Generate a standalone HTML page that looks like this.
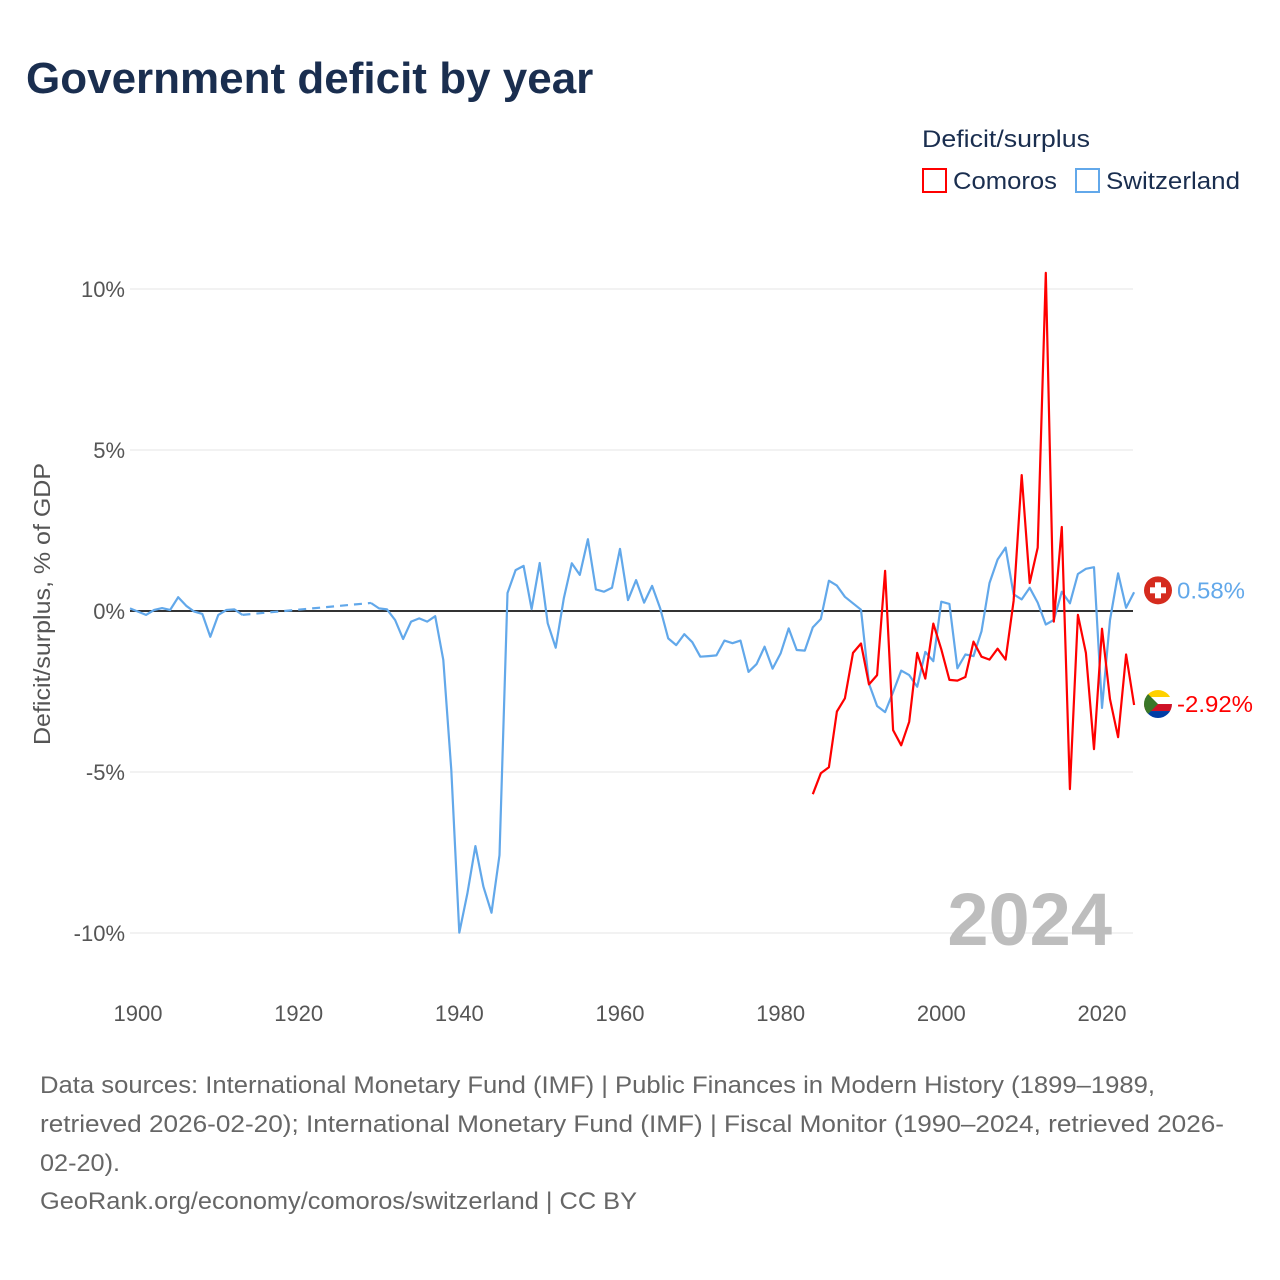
<!DOCTYPE html>
<html><head><meta charset="utf-8"><style>
body{margin:0;background:#fff;font-family:"Liberation Sans",sans-serif;}
svg{display:block}
</style></head><body>
<svg width="1280" height="1280" xmlns="http://www.w3.org/2000/svg" id="chart">
<text x="26" y="93" font-size="44" font-weight="bold" fill="#1a2e4f">Government deficit by year</text>
<g>
<text x="922" y="147" font-size="24" fill="#1a2e4f" textLength="168" lengthAdjust="spacingAndGlyphs">Deficit/surplus</text>
<rect x="923" y="169" width="23" height="23" fill="#fff" stroke="#ff0000" stroke-width="2"/>
<text x="953" y="189" font-size="24" fill="#1a2e4f" textLength="104" lengthAdjust="spacingAndGlyphs">Comoros</text>
<rect x="1076" y="169" width="23" height="23" fill="#fff" stroke="#62a8ea" stroke-width="2"/>
<text x="1106" y="189" font-size="24" fill="#1a2e4f" textLength="134" lengthAdjust="spacingAndGlyphs">Switzerland</text>
</g>
<text transform="translate(50,604) rotate(-90)" text-anchor="middle" font-size="23" fill="#555" textLength="282" lengthAdjust="spacingAndGlyphs">Deficit/surplus, % of GDP</text>
<g id="grid"></g>
<text x="1112" y="945" text-anchor="end" font-size="74" font-weight="bold" fill="#bdbdbd">2024</text>
<g id="series"></g>
<g id="labels"></g>
<g font-size="24" fill="#666">
<text x="40" y="1093" textLength="1115" lengthAdjust="spacingAndGlyphs">Data sources: International Monetary Fund (IMF) | Public Finances in Modern History (1899–1989,</text>
<text x="40" y="1132" textLength="1184" lengthAdjust="spacingAndGlyphs">retrieved 2026-02-20); International Monetary Fund (IMF) | Fiscal Monitor (1990–2024, retrieved 2026-</text>
<text x="40" y="1171" textLength="80" lengthAdjust="spacingAndGlyphs">02-20).</text>
<text x="40" y="1209" textLength="597" lengthAdjust="spacingAndGlyphs">GeoRank.org/economy/comoros/switzerland | CC BY</text>
</g>
</svg>
<script>
const yTicks=[10,5,0,-5,-10];
const yTickLabels=["10%","5%","0%","-5%","-10%"];
const xTicks=[1900,1920,1940,1960,1980,2000,2020];
const chYears=[1899,1900,1901,1902,1903,1904,1905,1906,1907,1908,1909,1910,1911,1912,1913,1929,1930,1931,1932,1933,1934,1935,1936,1937,1938,1939,1940,1941,1942,1943,1944,1945,1946,1947,1948,1949,1950,1951,1952,1953,1954,1955,1956,1957,1958,1959,1960,1961,1962,1963,1964,1965,1966,1967,1968,1969,1970,1971,1972,1973,1974,1975,1976,1977,1978,1979,1980,1981,1982,1983,1984,1985,1986,1987,1988,1989,1990,1991,1992,1993,1994,1995,1996,1997,1998,1999,2000,2001,2002,2003,2004,2005,2006,2007,2008,2009,2010,2011,2012,2013,2014,2015,2016,2017,2018,2019,2020,2021,2022,2023,2024];
const chValues=[0.08,-0.02,-0.12,0.03,0.09,0.03,0.43,0.16,-0.02,-0.09,-0.8,-0.12,0.03,0.05,-0.12,0.25,0.08,0.05,-0.28,-0.87,-0.33,-0.23,-0.33,-0.16,-1.52,-4.94,-9.99,-8.77,-7.3,-8.56,-9.37,-7.58,0.56,1.27,1.4,0.06,1.49,-0.38,-1.14,0.39,1.48,1.12,2.23,0.67,0.6,0.72,1.93,0.34,0.96,0.26,0.78,0.08,-0.85,-1.06,-0.72,-0.97,-1.42,-1.4,-1.38,-0.92,-1.0,-0.92,-1.89,-1.65,-1.11,-1.79,-1.31,-0.54,-1.21,-1.23,-0.51,-0.25,0.94,0.79,0.44,0.24,0.04,-2.26,-2.95,-3.14,-2.52,-1.85,-1.99,-2.35,-1.27,-1.56,0.29,0.22,-1.78,-1.35,-1.4,-0.63,0.87,1.6,1.97,0.52,0.36,0.72,0.26,-0.42,-0.28,0.6,0.24,1.15,1.31,1.36,-3.01,-0.28,1.17,0.1,0.58];
const kmYears=[1984,1985,1986,1987,1988,1989,1990,1991,1992,1993,1994,1995,1996,1997,1998,1999,2000,2001,2002,2003,2004,2005,2006,2007,2008,2009,2010,2011,2012,2013,2014,2015,2016,2017,2018,2019,2020,2021,2022,2023,2024];
const kmValues=[-5.69,-5.04,-4.85,-3.12,-2.71,-1.3,-1.01,-2.28,-1.99,1.25,-3.7,-4.17,-3.44,-1.3,-2.1,-0.39,-1.19,-2.14,-2.16,-2.05,-0.95,-1.42,-1.51,-1.17,-1.51,0.31,4.22,0.87,1.97,10.5,-0.33,2.61,-5.53,-0.12,-1.3,-4.29,-0.55,-2.74,-3.92,-1.35,-2.92];
const NS="http://www.w3.org/2000/svg";
const X=yr=>138+(yr-1900)*(964/120);
const Y=v=>611-v*32.2;
function mk(tag,attrs,parent){const e=document.createElementNS(NS,tag);for(const k in attrs)e.setAttribute(k,attrs[k]);parent.appendChild(e);return e;}
const grid=document.getElementById('grid');
yTicks.forEach((t,i)=>{
 const l=mk('line',{x1:130,x2:1133,y1:Y(t),y2:Y(t),stroke:t===0?'#333':'#e6e6e6','stroke-width':t===0?2:1},grid);
 
 
 const tx=mk('text',{x:125,y:Y(t)+8,'text-anchor':'end','font-size':22,fill:'#555'},grid);
 tx.textContent=yTickLabels[i];
 
 
});
xTicks.forEach(t=>{
 const tx=mk('text',{x:X(t),y:1021,'text-anchor':'middle','font-size':22,fill:'#555'},grid);
 tx.textContent=t;
 
 
});
const ser=document.getElementById('series');
function drawLine(years,vals,color,name){
 let segs=[[]];let dashed=[];
 for(let i=0;i<years.length;i++){
  if(i>0&&years[i]-years[i-1]>1){dashed.push([i-1,i]);segs.push([]);}
  segs[segs.length-1].push(X(years[i]).toFixed(1)+','+Y(vals[i]).toFixed(1));
 }
 segs.forEach(s=>{const p=mk('polyline',{points:s.join(' '),fill:'none',stroke:color,'stroke-width':2.2,'stroke-linejoin':'round'},ser);
  
  });
 dashed.forEach(([a,b])=>{const p=mk('line',{x1:X(years[a]),y1:Y(vals[a]),x2:X(years[b]),y2:Y(vals[b]),stroke:color,'stroke-width':2.2,'stroke-dasharray':'8,6'},ser);
  
  });
}
drawLine(chYears,chValues,'#62a8ea','switzerland');
drawLine(kmYears,kmValues,'#ff0000','comoros');
const lab=document.getElementById('labels');
const chLast=chValues[chValues.length-1], kmLast=kmValues[kmValues.length-1];
let cy=Y(chLast)-2;
const sg=mk('g',{},lab);


mk('circle',{cx:1158,cy:cy,r:14,fill:'#d52b1e'},sg);
mk('rect',{x:1155,y:cy-8,width:6,height:16,fill:'#fff'},sg);
mk('rect',{x:1150,y:cy-3,width:16,height:6,fill:'#fff'},sg);
const st=mk('text',{x:1177,y:cy+8,'font-size':23,fill:'#62a8ea',textLength:68,lengthAdjust:'spacingAndGlyphs'},lab);
st.textContent=chLast.toFixed(2)+'%';


let ky=Y(kmLast)-1;
const kg=mk('g',{},lab);


mk('clipPath',{id:'kc'},kg).appendChild((()=>{const c=document.createElementNS(NS,'circle');c.setAttribute('cx',1158);c.setAttribute('cy',ky);c.setAttribute('r',14);return c;})());
const kk=mk('g',{'clip-path':'url(#kc)'},kg);
mk('rect',{x:1144,y:ky-14,width:28,height:7,fill:'#ffd100'},kk);
mk('rect',{x:1144,y:ky-7,width:28,height:7,fill:'#fff'},kk);
mk('rect',{x:1144,y:ky,width:28,height:7,fill:'#ce1126'},kk);
mk('rect',{x:1144,y:ky+7,width:28,height:7,fill:'#003da5'},kk);
mk('polygon',{points:`1144,${ky-14} 1158,${ky} 1144,${ky+14}`,fill:'#3a7728'},kk);
const kt=mk('text',{x:1177,y:ky+8,'font-size':23,fill:'#ff0000',textLength:76,lengthAdjust:'spacingAndGlyphs'},lab);
kt.textContent=kmLast.toFixed(2)+'%';


</script>
</body></html>
